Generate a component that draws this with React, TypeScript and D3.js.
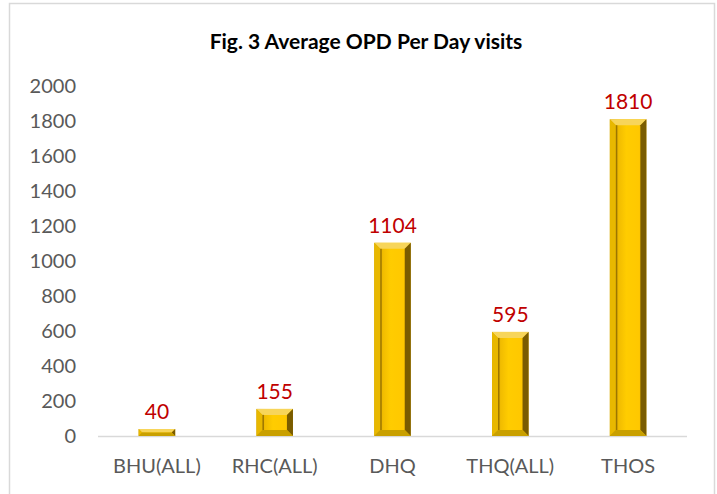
import * as d3 from 'd3';

const categories = ['BHU(ALL)', 'RHC(ALL)', 'DHQ', 'THQ(ALL)', 'THOS'];
const values = [40, 155, 1104, 595, 1810];
const yTicks = [0, 200, 400, 600, 800, 1000, 1200, 1400, 1600, 1800, 2000];

const W = 717;
const H = 494;
const FONT = 'Lato, "Open Sans", sans-serif';

export default function App() {
  const x = d3.scaleBand<string>().domain(categories).range([98, 687]).paddingInner(0.69).paddingOuter(0.345);
  const y = d3.scaleLinear().domain([0, 2000]).range([436, 86]);
  const bw = x.bandwidth();
  const b = 6; // bevel size

  return (
    <svg width={W} height={H} style={{ position: 'absolute', left: 0, top: 0 }}>
      <defs>
        <linearGradient id="face" x1="0" x2="1" y1="0" y2="0">
          <stop offset="0" stopColor="#C99A00" />
          <stop offset="0.25" stopColor="#F2BD00" />
          <stop offset="0.45" stopColor="#FFCC00" />
          <stop offset="0.8" stopColor="#FFC800" />
          <stop offset="1" stopColor="#D9A500" />
        </linearGradient>
      </defs>
      <rect x={0} y={0} width={W} height={H} fill="#fff" />
      <rect x={9.5} y={3.5} width={705} height={500} fill="#fff" stroke="#D9D9D9" strokeWidth={1.5} />
      <text x={366} y={49} textAnchor="middle" fontFamily={FONT} fontWeight="bold" fontSize={21} fill="#000">
        Fig. 3 Average OPD Per Day visits
      </text>
      {yTicks.map(t => (
        <text key={t} x={76} y={y(t)} dy="0.35em" textAnchor="end" fontFamily={FONT} fontSize={20} fill="#595959">
          {t}
        </text>
      ))}
      <line x1={98} x2={687} y1={y(0) + 0.5} y2={y(0) + 0.5} stroke="#D9D9D9" strokeWidth={1.5} />
      {categories.map((c, i) => {
        const x0 = x(c)!;
        const x1 = x0 + bw;
        const y0 = y(values[i]);
        const y1 = y(0);
        const bb = Math.min(b, (y1 - y0) / 2);
        return (
          <g key={c}>
            <rect x={x0} y={y0} width={bw} height={y1 - y0} fill="url(#face)" />
            {/* top bevel */}
            <polygon points={`${x0},${y0} ${x1},${y0} ${x1 - bb},${y0 + bb} ${x0 + bb},${y0 + bb}`} fill="#F7D55A" />
            {/* left bevel */}
            <polygon points={`${x0},${y0} ${x0 + bb},${y0 + bb} ${x0 + bb},${y1 - bb} ${x0},${y1}`} fill="#E8B800" />
            {/* right bevel */}
            <polygon points={`${x1},${y0} ${x1},${y1} ${x1 - bb},${y1 - bb} ${x1 - bb},${y0 + bb}`} fill="#7A5C00" />
            {/* bottom bevel */}
            <polygon points={`${x0},${y1} ${x1},${y1} ${x1 - bb},${y1 - bb} ${x0 + bb},${y1 - bb}`} fill="#C9A000" />
            <rect x={x0 + bb} y={y0 + bb} width={1.5} height={Math.max(0, y1 - y0 - 2 * bb)} fill="#9C7600" />
            <text x={x0 + bw / 2} y={y0 - 10} textAnchor="middle" fontFamily={FONT} fontSize={21} fill="#C00000">
              {values[i]}
            </text>
            <text x={x0 + bw / 2} y={466} dy="0.35em" textAnchor="middle" fontFamily={FONT} fontSize={20} fill="#595959">
              {c}
            </text>
          </g>
        );
      })}
    </svg>
  );
}
